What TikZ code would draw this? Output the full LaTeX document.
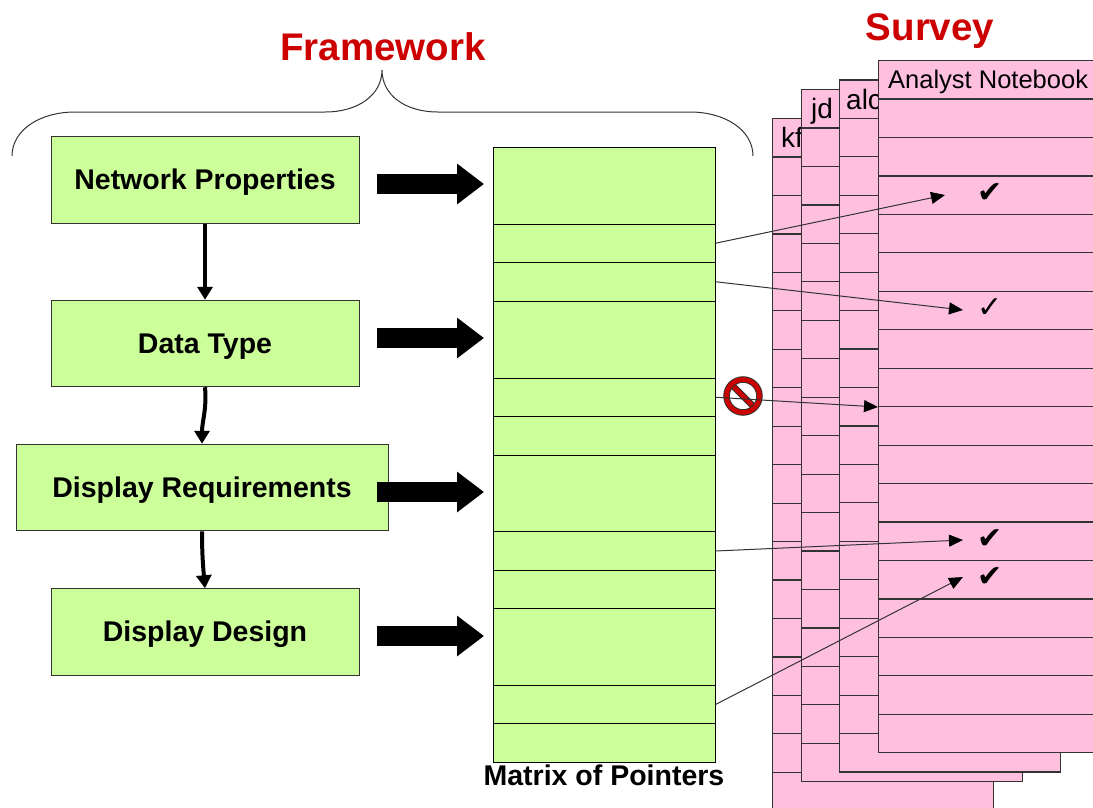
\documentclass[tikz,border=0pt]{standalone}
\usepackage{fontspec}
\setmainfont{Liberation Sans}
\newfontfamily\checkfont{DejaVu Sans}
\usetikzlibrary{arrows.meta}

\definecolor{framegreen}{HTML}{CCFF99}
\definecolor{sheetpink}{HTML}{FFC0E0}
\definecolor{titlered}{HTML}{CC0000}
\definecolor{edgegray}{HTML}{333333}

\tikzset{
    titletext/.style={anchor=base,inner sep=0pt,text=titlered,font=\fontsize{38.5}{38}\selectfont\bfseries},
    framebox/.style={draw=edgegray,fill=framegreen,line width=1pt,inner sep=0pt,
        minimum height=86.5pt,text height=25pt,text depth=6pt,
        font=\fontsize{28.5}{30}\selectfont\bfseries},
    flowarrow/.style={line width=4pt,-{Triangle[length=13pt,width=15pt]}},
    blockarrow/.style={line width=20pt,-{Triangle[length=27pt,width=39pt]}},
    matcell/.style={draw=black,fill=framegreen,line width=1pt,inner sep=0pt,
        minimum width=221.5pt,anchor=north west},
    sheetcell/.style={draw=edgegray,fill=sheetpink,line width=1.2pt,inner sep=0pt,
        minimum width=221pt,minimum height=38.45pt,anchor=north west},
    sheetname/.style={anchor=base west,inner sep=0pt,font=\fontsize{28}{28}\selectfont},
    pointer/.style={draw=edgegray,line width=1pt,-{Triangle[length=14pt,width=12pt,color=black,fill=black]}},
    tick/.style={inner sep=0pt,font=\checkfont\fontsize{30}{30}\selectfont},
    nosignline/.style={draw=edgegray,double=titlered,line width=1pt,double distance=4.5pt}
}

\begin{document}
\begin{tikzpicture}[x=1pt,y=-1pt]

\useasboundingbox (0,0) rectangle (1093,807);
\clip (0,0) rectangle (1093,807);

\node[titletext] (framework) at (383,60) {Framework};
\node[titletext] (survey) at (930,40) {Survey};

% brace over the framework
\coordinate (bracetip) at (382,70);
\draw[draw=edgegray,line width=1pt] (12,156) .. controls (12,130) and (40,112) .. (75,112)
    -- (325,112) .. controls (358,112) and (382,95) .. (bracetip)
    .. controls (382,95) and (405,112) .. (438,112)
    -- (690,112) .. controls (725,112) and (753,130) .. (753,156);

% framework boxes
\node[framebox,minimum width=308pt] (netprop) at (205,180) {Network Properties};
\node[framebox,minimum width=308pt] (datatype) at (205,343.5) {Data Type};
\node[framebox,minimum width=372pt] (dispreq) at (202,487.5) {Display Requirements};
\node[framebox,minimum width=308pt] (dispdes) at (205,632) {Display Design};

\draw[flowarrow] (netprop.south) -- (datatype.north);
\draw[flowarrow] (datatype.south) to[out=-85,in=90] (dispreq.north);
\draw[flowarrow] (dispreq.south) to[out=-90,in=95] (dispdes.north);

% matrix of pointers
\foreach \i/\y/\h in {1/147/76.5,2/223.5/38.5,3/262/38.5,
                      4/300.5/77,5/377.5/38.5,6/416/38.5,
                      7/454.5/76.5,8/531/39,9/570/38,
                      10/608/77,11/685/38,12/723/39}
    \node[matcell,minimum height=\h pt] (m\i) at (493,\y) {};

\node[font=\fontsize{28.5}{30}\selectfont\bfseries] (matlabel) at (604,775) {Matrix of Pointers};

\foreach \i/\j/\y in {1/1/184,2/4/338,3/7/492,4/10/636} {
    \coordinate (src\i) at (377,\y);
    \draw[blockarrow] (src\i) -- ([xshift=-9pt]m\j.west |- src\i);
}

% notebooks, back to front
\foreach \s/\x/\y/\tx/\ty in {kf/772/118/781/147,jd/801/89/811/118,alc/839/79.3/846/109} {
    \foreach \r in {1,...,18}
        \node[sheetcell] (\s\r) at (\x,{\y+(\r-1)*38.45}) {};
    \node[sheetname] (\s name) at (\tx,\ty) {\s};
}
\foreach \r in {1,...,18}
    \node[sheetcell] (an\r) at (878,{60+(\r-1)*38.45}) {};
\node[sheetname,font=\fontsize{25.5}{26}\selectfont] (anname) at (888,88) {Analyst Notebook};

% ticks
\node[tick] (tick1) at (990,193) {✔};
\node[tick] (tick2) at (990,308) {✓};
\node[tick] (tick3) at (990,539) {✔};
\node[tick] (tick4) at (990,577) {✔};

% no entry sign
\node[circle,minimum size=33pt,inner sep=0pt,outer sep=0pt] (nosign) at (743,396) {};
\draw[nosignline] (nosign.north west) -- (nosign.south east);
\draw[nosignline] (nosign.center) circle (16.5pt);

% pointers
\coordinate (tip1) at (945,195);
\coordinate (tip2) at (963,310);
\coordinate (tip3) at (878,407);
\coordinate (tip4) at (963,540);
\coordinate (tip5) at (963,577);
\draw[pointer] (m2.east) -- (tip1);
\draw[pointer] (m3.east) -- (tip2);
\draw[pointer] (m5.east) -- (tip3);
\draw[pointer] (m8.east) -- (tip4);
\draw[pointer] (m11.east) -- (tip5);

\end{tikzpicture}
\end{document}
